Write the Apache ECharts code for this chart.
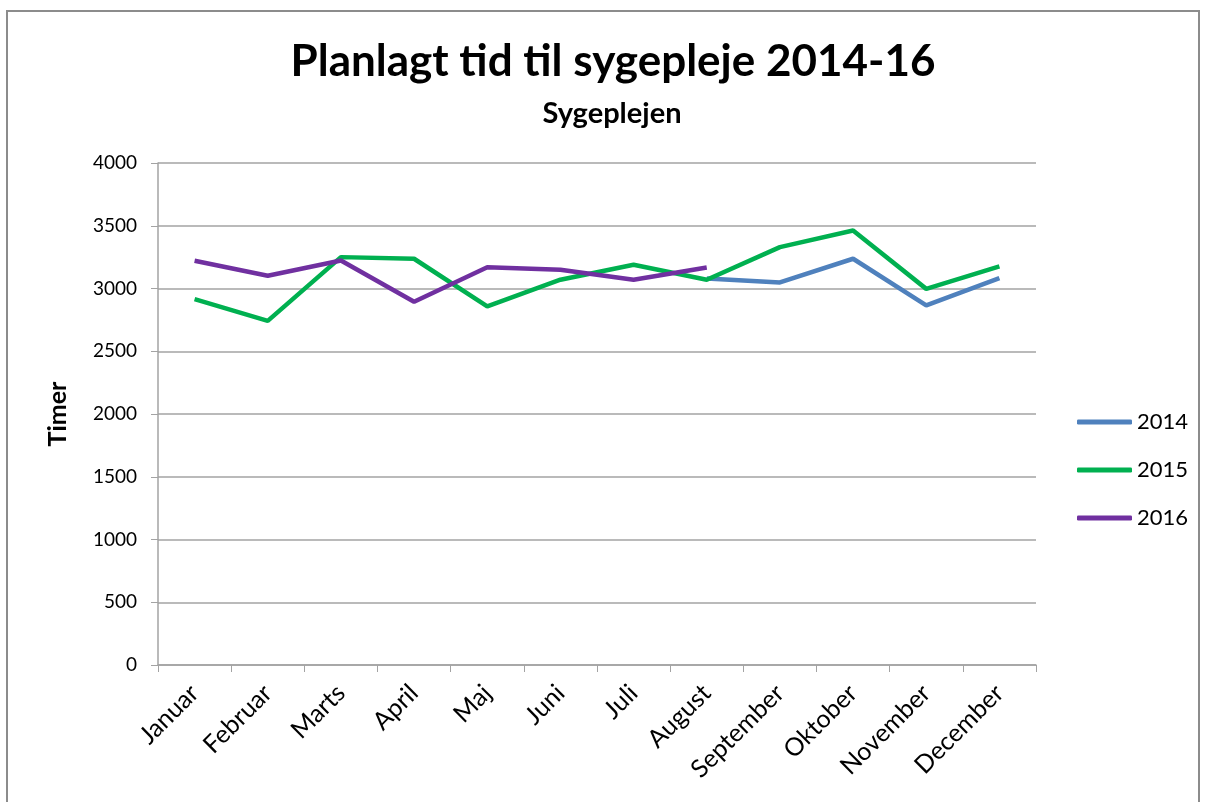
<!DOCTYPE html>
<html lang="da">
<head>
  <meta charset="UTF-8">
  <title>Planlagt tid til sygepleje</title>
  <script src="https://cdn.jsdelivr.net/npm/echarts@6/dist/echarts.min.js"></script>
  <style>
    html, body { margin: 0; padding: 0; background: #fff; }
    #chart { width: 1205px; height: 802px; }
  </style>
</head>
<body>
  <div id="chart"></div>
  <script>
    // data
    var months = ['Januar', 'Februar', 'Marts', 'April', 'Maj', 'Juni',
      'Juli', 'August', 'September', 'Oktober', 'November', 'December'];
    var y2014 = [null, null, null, null, null, null, null, 3080, 3048, 3237, 2865, 3083];
    var y2015 = [2915, 2742, 3250, 3237, 2857, 3070, 3189, 3070, 3330, 3462, 2997, 3176];
    var y2016 = [3221, 3101, 3223, 2894, 3170, 3149, 3070, 3167, null, null, null, null];
    var yTicks = [0, 4000, 500]; // min, max, step

    var font = 'Lato';
    var gray = '#a3a3a3';
    var chart = echarts.init(document.getElementById('chart'));

    function line(name, data, color) {
      return {
        name: name,
        type: 'line',
        data: data,
        symbol: 'none',
        lineStyle: { color: color, width: 4.5 },
        itemStyle: { color: color }
      };
    }

    chart.setOption({
      animation: false,
      textStyle: { fontFamily: font },
      graphic: [{
        type: 'rect',
        shape: { x: 7, y: 11, width: 1192, height: 800 },
        style: { fill: 'none', stroke: '#8c8c8c', lineWidth: 2 },
        silent: true
      }],
      title: [{
        text: 'Planlagt tid til sygepleje 2014-16',
        left: 608,
        top: 35,
        textAlign: 'center',
        textStyle: { fontFamily: font, fontSize: 44, fontWeight: 'bold', color: '#000' }
      }, {
        text: 'Sygeplejen',
        left: 607,
        top: 94,
        textAlign: 'center',
        textStyle: { fontFamily: font, fontSize: 29, fontWeight: 'bold', color: '#000' }
      }],
      legend: {
        orient: 'vertical',
        left: 1072,
        top: 406,
        icon: 'roundRect',
        itemWidth: 55,
        itemHeight: 5,
        itemGap: 26,
        data: ['2014', '2015', '2016'],
        textStyle: { fontFamily: font, fontSize: 22, color: '#000' }
      },
      grid: { left: 158, right: 169, top: 163, bottom: 137 },
      xAxis: {
        type: 'category',
        data: months,
        boundaryGap: true,
        axisLine: { lineStyle: { color: gray, width: 1.5 } },
        axisTick: { show: true, length: 7, lineStyle: { color: gray } },
        axisLabel: { rotate: 45, margin: 24, fontSize: 25, color: '#000', fontFamily: font, interval: 0 }
      },
      yAxis: {
        type: 'value',
        min: yTicks[0],
        max: yTicks[1],
        interval: yTicks[2],
        name: 'Timer',
        nameLocation: 'middle',
        nameGap: 88,
        nameRotate: 90,
        nameTextStyle: { fontFamily: font, fontSize: 25, fontWeight: 'bold', color: '#000' },
        axisLine: { show: true, lineStyle: { color: gray, width: 1.5 } },
        axisTick: { show: true, length: 7, lineStyle: { color: gray } },
        axisLabel: {
          fontSize: 19, color: '#000', margin: 21, fontFamily: font,
          formatter: function (v) { return String(v); }
        },
        splitLine: { lineStyle: { color: gray, width: 1.5 } }
      },
      series: [
        line('2014', y2014, '#4f81bd'),
        line('2015', y2015, '#00b050'),
        line('2016', y2016, '#7030a0')
      ]
    });
  </script>
</body>
</html>
